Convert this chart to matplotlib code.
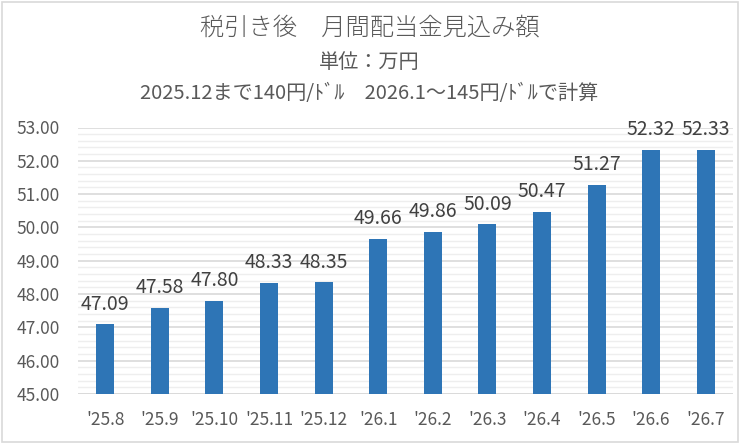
import matplotlib
matplotlib.use("Agg")
import matplotlib.pyplot as plt
from matplotlib.ticker import MultipleLocator
from matplotlib.patches import Rectangle

plt.rcParams['font.family'] = ['Noto Sans CJK JP', 'DejaVu Sans']

# data
months = ["'25.8", "'25.9", "'25.10", "'25.11", "'25.12", "'26.1",
          "'26.2", "'26.3", "'26.4", "'26.5", "'26.6", "'26.7"]
amounts = [47.09, 47.58, 47.80, 48.33, 48.35, 49.66,
           49.86, 50.09, 50.47, 51.27, 52.32, 52.33]
y_ticks = [45, 46, 47, 48, 49, 50, 51, 52, 53]

TEXT = '#595959'
BAR = '#2e75b6'

fig = plt.figure(figsize=(7.39, 4.43), dpi=100)
W, H = 739, 443
ax = fig.add_axes([78 / W, 1 - 394 / H, (733 - 78) / W, (394 - 127.5) / H])

x = range(len(months))
ax.bar(x, [a - 45 for a in amounts], bottom=45, width=0.33, color=BAR, zorder=3)
for i, a in enumerate(amounts):
    ax.annotate(f"{a:.2f}", (i, a), xytext=(0, 7), textcoords='offset points',
                ha='center', va='bottom', fontsize=14, color='#404040', zorder=4)

ax.set_xlim(-0.5, len(months) - 0.5)
ax.set_ylim(45, 53)
ax.yaxis.set_minor_locator(MultipleLocator(0.2))
ax.set_yticks(y_ticks)
ax.set_yticklabels([f"{v:.2f}" for v in y_ticks])
ax.grid(axis='y', which='major', color='#d9d9d9', linewidth=1.2, zorder=0)
ax.grid(axis='y', which='minor', color='#eeeeee', linewidth=1.0, zorder=0)
ax.set_xticks(list(x))
ax.set_xticklabels(months)
ax.tick_params(axis='both', which='both', length=0, colors=TEXT)
ax.tick_params(axis='y', pad=13, labelsize=12.5)
ax.tick_params(axis='x', pad=12, labelsize=12.5)
for s in ax.spines.values():
    s.set_visible(False)
ax.axhline(45, color='#d9d9d9', linewidth=1.2, zorder=2)

fig.text(0.5, 1 - 28 / H, "税引き後　月間配当金見込み額", ha='center', va='center',
         fontsize=17.5, color=TEXT, fontweight='light')
fig.text(0.5, 1 - 62 / H, "単位：万円", ha='center', va='center',
         fontsize=14.5, color=TEXT)
fig.text(0.5, 1 - 94 / H, "2025.12まで140円/ﾄﾞﾙ　2026.1〜145円/ﾄﾞﾙで計算",
         ha='center', va='center', fontsize=14.5, color=TEXT)

fig.patches.append(Rectangle((1.5 / W, 1.5 / H), 1 - 3 / W, 1 - 3 / H,
                             transform=fig.transFigure, fill=False,
                             edgecolor='#d9d9d9', linewidth=1.2))

fig.savefig('out.png', dpi=100)
